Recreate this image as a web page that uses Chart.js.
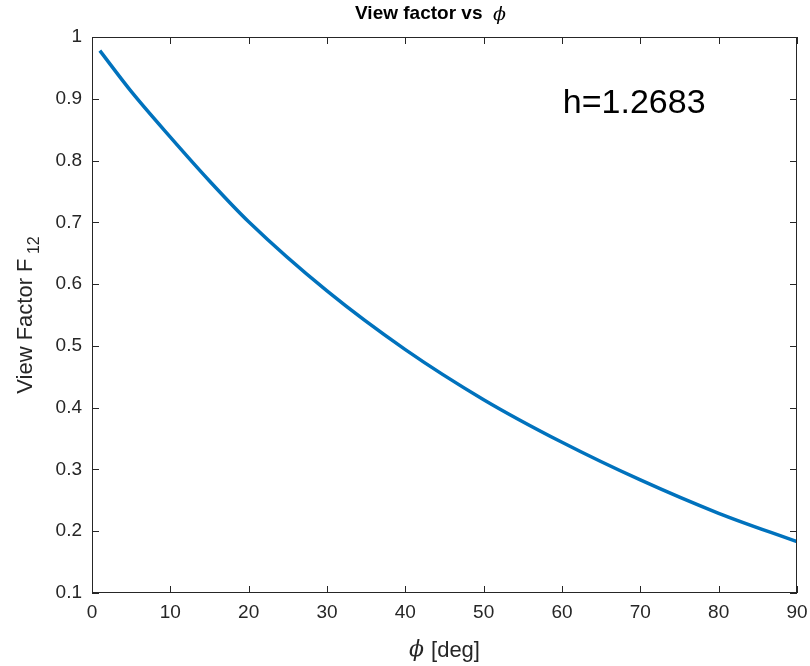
<!DOCTYPE html>
<html>
<head>
<meta charset="utf-8">
<script src="https://cdn.jsdelivr.net/npm/chart.js@4.4.1/dist/chart.umd.min.js"></script>
<style>
  body { margin: 0; background: #fff; }
  #contenedor { width: 810px; height: 666px; position: relative; }
</style>
</head>
<body>
<div id="contenedor"><canvas id="graficoVista"></canvas></div>
<script>
// Datos (ángulo en grados, factor de vista)
const angulos = [1, 5, 10, 15, 20, 30, 40, 50, 60, 70, 80, 90];
const factorVista = [0.978, 0.912, 0.838, 0.767, 0.701, 0.589, 0.494, 0.413, 0.344, 0.283, 0.229, 0.183];
const ticksX = [0, 10, 20, 30, 40, 50, 60, 70, 80, 90];
const ticksY = [0.1, 0.2, 0.3, 0.4, 0.5, 0.6, 0.7, 0.8, 0.9, 1];
const textoH = 'h=1.2683';

const colorEjes = '#262626';
const fuente = '"Liberation Sans", Arial, Helvetica, sans-serif';

// Marco, marcas hacia dentro y textos (estilo MATLAB)
const pluginMarco = {
    id: 'marco',
    afterDraw(chart) {
        const ctx = chart.ctx;
        const area = chart.chartArea;
        const sx = chart.scales.x;
        const sy = chart.scales.y;
        const largo = 7;

        ctx.save();
        ctx.strokeStyle = colorEjes;
        ctx.lineWidth = 1;
        ctx.strokeRect(area.left + 0.5, area.top + 0.5, area.right - area.left - 1, area.bottom - area.top - 1);

        ctx.beginPath();
        ticksX.forEach(v => {
            const px = Math.round(sx.getPixelForValue(v)) + 0.5;
            ctx.moveTo(px, area.bottom); ctx.lineTo(px, area.bottom - largo);
            ctx.moveTo(px, area.top); ctx.lineTo(px, area.top + largo);
        });
        ticksY.forEach(v => {
            const py = Math.round(sy.getPixelForValue(v)) + 0.5;
            ctx.moveTo(area.left, py); ctx.lineTo(area.left + largo, py);
            ctx.moveTo(area.right, py); ctx.lineTo(area.right - largo, py);
        });
        ctx.stroke();

        // Anotación h
        ctx.fillStyle = '#000';
        ctx.font = '34px ' + fuente;
        ctx.textAlign = 'left';
        ctx.textBaseline = 'middle';
        ctx.fillText(textoH, sx.getPixelForValue(60.1), sy.getPixelForValue(0.892));

        const centroX = (area.left + area.right) / 2;

        // Título
        ctx.fillStyle = '#000';
        ctx.textBaseline = 'middle';
        const t1 = 'View factor vs  ';
        ctx.font = 'bold 19px ' + fuente;
        const w1 = ctx.measureText(t1).width;
        ctx.font = 'italic 19px "DejaVu Serif", serif';
        const w2 = ctx.measureText('ϕ').width;
        let x0 = centroX - 14 - (w1 + w2) / 2;
        ctx.textAlign = 'left';
        ctx.font = 'bold 19px ' + fuente;
        ctx.fillText(t1, x0, 14);
        ctx.font = 'italic 19px "DejaVu Serif", serif';
        ctx.fillText('ϕ', x0 + w1, 15);

        // Título eje X
        ctx.fillStyle = colorEjes;
        ctx.font = 'italic 22px "DejaVu Serif", serif';
        const wf = ctx.measureText('ϕ ').width;
        ctx.font = '22px ' + fuente;
        const wd = ctx.measureText('[deg]').width;
        x0 = centroX - (wf + wd) / 2;
        ctx.font = 'italic 22px "DejaVu Serif", serif';
        ctx.fillText('ϕ ', x0, 650);
        ctx.font = '22px ' + fuente;
        ctx.fillText('[deg]', x0 + wf, 651);

        // Título eje Y con subíndice
        ctx.translate(24, (area.top + area.bottom) / 2);
        ctx.rotate(-Math.PI / 2);
        ctx.font = '22px ' + fuente;
        const base = 'View Factor F';
        const wb = ctx.measureText(base).width;
        ctx.font = '16px ' + fuente;
        const ws = ctx.measureText(' 12').width;
        const xi = -(wb + ws) / 2;
        ctx.textBaseline = 'alphabetic';
        ctx.font = '22px ' + fuente;
        ctx.fillText(base, xi, 8);
        ctx.font = '16px ' + fuente;
        ctx.fillText(' 12', xi + wb, 15);
        ctx.restore();
    }
};

const ctx = document.getElementById('graficoVista');

new Chart(ctx, {
    type: 'line',
    data: {
        datasets: [{
            label: 'F12',
            data: angulos.map((a, i) => ({ x: a, y: factorVista[i] })),
            borderColor: '#0072BD',
            borderWidth: 3.5,
            pointRadius: 0,
            fill: false,
            cubicInterpolationMode: 'monotone'
        }]
    },
    options: {
        responsive: true,
        maintainAspectRatio: false,
        animation: false,
        layout: { padding: { left: 0, top: 37, right: 13, bottom: 0 } },
        plugins: {
            legend: { display: false },
            title: { display: false },
            tooltip: { enabled: false }
        },
        scales: {
            x: {
                type: 'linear',
                min: 0,
                max: 90,
                afterFit(scale) {
                    scale.height = 73;
                    scale.paddingLeft = 0;
                    scale.paddingRight = 0;
                },
                afterBuildTicks(scale) { scale.ticks = ticksX.map(v => ({ value: v })); },
                grid: { display: false, drawTicks: false },
                border: { display: false },
                ticks: {
                    color: colorEjes,
                    padding: 8,
                    maxRotation: 0,
                    font: { family: fuente, size: 19 }
                }
            },
            y: {
                type: 'linear',
                min: 0.1,
                max: 1,
                afterFit(scale) {
                    scale.width = 92;
                    scale.paddingTop = 0;
                    scale.paddingBottom = 0;
                },
                afterBuildTicks(scale) { scale.ticks = ticksY.map(v => ({ value: v })); },
                grid: { display: false, drawTicks: false },
                border: { display: false },
                ticks: {
                    color: colorEjes,
                    padding: 10,
                    font: { family: fuente, size: 19 },
                    callback: v => String(Number(v.toFixed(1)))
                }
            }
        }
    },
    plugins: [pluginMarco]
});
</script>
</body>
</html>
